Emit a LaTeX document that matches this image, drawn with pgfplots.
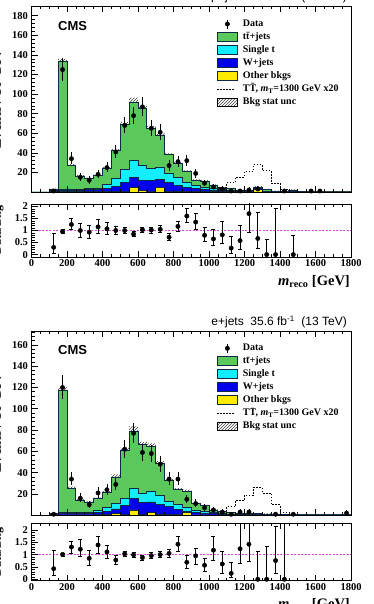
\documentclass[border=0pt]{standalone}
\usepackage{fontspec}
\setmainfont{Liberation Serif}
\newfontfamily\hel{Liberation Sans}
\usepackage{pgfplots}
\pgfplotsset{compat=1.18}
\usepackage{pgfplotstable}
\usepgfplotslibrary{fillbetween}
\usetikzlibrary{patterns}

\definecolor{ttg}{RGB}{90,200,90}
\definecolor{stc}{RGB}{20,238,252}
\definecolor{wjb}{RGB}{0,0,235}
\definecolor{oty}{RGB}{255,235,0}
\definecolor{outl}{RGB}{15,40,70}
\definecolor{ratl}{RGB}{225,70,225}

% cumulative stack tops: tot (ttbar top), cy (single t top), bl (W+jets top), ot (other top), err (stat unc)
\pgfplotstableread{
x tot cy bl ot err
0 0 0 0 0 0
50 0 0 0 0 0
100 3 1.2 0.8 0.2 0.5
150 133 3 2 0.3 3
200 27 3 2 0.3 1.5
250 16 3 2 0.3 1.2
300 13.5 3.5 2.2 0.3 1.1
350 17 4 2.5 0.4 1.2
400 24 8 4 0.5 1.5
450 42 14 6 0.7 2
500 69 23 10 1 2.5
550 92 32 15 5 4.5
600 85 27 12 1.5 3
650 65 24 11.5 1 2.5
700 58 25 13 5 2.5
750 38 19 9.5 1 1.5
800 29 15 7 0.7 1.5
850 21 10 5 0.5 1.2
900 12 7 3.5 0.4 1
950 11 5 2.5 0.3 1
1000 7 3.5 2 0.3 0.8
1050 4 2.5 1.5 0.2 0.6
1100 3.5 1.5 1 0.2 0.6
1150 1.8 1.2 0.8 0.2 0.5
1200 1.3 1 0.6 0.2 0.5
1250 4.5 3.5 3 2.5 1.5
1300 2.5 0.7 0.5 0.1 0.8
1350 1 0.6 0.4 0.1 0.4
1400 0.4 0.3 0.2 0.1 0.2
1450 2 0.5 0.3 0.1 0.6
1500 0.6 0.3 0.2 0.1 0.3
1550 0.3 0.2 0.1 0.05 0.2
1600 0.4 0.2 0.1 0.05 0.2
1650 0.3 0.2 0.1 0.05 0.2
1700 0.3 0.2 0.1 0.05 0.2
1750 0.6 0.3 0.2 0.05 0.3
1800 0.6 0.3 0.2 0.05 0.3
}\bkgmu

\pgfplotstableread{
x tot cy bl ot err
0 0 0 0 0 0
50 0 0 0 0 0
100 1.5 0.6 0.4 0.1 0.4
150 117 3 2 0.3 3
200 25.5 3 2 0.3 1.5
250 14 3 2 0.3 1.2
300 12 2.8 1.8 0.3 1.1
350 15.5 4.5 2.5 0.4 1.2
400 21.5 7 4 0.5 1.5
450 36 11 6 2 2.5
500 61 16 9 0.8 2.5
550 79 25.5 16 5 4.5
600 66.5 21 12 1 2.5
650 64.5 22 12.5 2.5 3
700 49 19 10 0.8 2
750 32.5 13 8 0.6 1.5
800 24 10 5.5 0.5 1.5
850 22 7.5 4 2.5 2
900 11 5 3 0.3 1
950 9 3.5 2 0.3 0.8
1000 5 2.5 1.5 0.2 0.6
1050 3.5 1.5 1 0.2 0.5
1100 2.5 1.2 0.8 0.2 0.5
1150 2 1 0.6 0.1 0.5
1200 1.8 0.9 0.5 0.1 0.4
1250 1.5 0.8 0.5 0.1 0.4
1300 1.3 0.7 0.4 0.1 0.4
1350 1 0.5 0.3 0.1 0.3
1400 0.8 0.4 0.3 0.1 0.3
1450 0.5 0.3 0.2 0.1 0.2
1500 0.5 0.3 0.2 0.1 0.2
1550 0.4 0.3 0.2 0.1 0.2
1600 0.4 0.3 0.2 0.1 0.2
1650 0.4 0.3 0.2 0.1 0.2
1700 0.4 0.3 0.2 0.1 0.2
1750 0.4 0.3 0.2 0.1 0.2
1800 0.4 0.3 0.2 0.1 0.2
}\bkge

\pgfplotstableread{
x s
950 0
1000 2
1050 5
1100 9.5
1150 15
1200 21
1250 28
1300 22
1350 9
1400 3
1450 1
1500 0.5
1550 0.3
1600 0.2
1650 0.2
1700 0.2
1750 0.2
1800 0.2
}\sigmu

\pgfplotstableread{
x s
950 0
1000 2
1050 4
1100 8
1150 14
1200 19
1250 26
1300 21
1350 10
1400 3
1450 1
1500 0.5
1550 0.3
1600 0.2
1650 0.2
1700 0.2
1750 0.2
1800 0.2
}\sige

\pgfplotstableread{
x y ep em
125 1 2.3 0.8
175 125 11.7 11.2
225 34 6.4 5.8
275 15 4.4 3.8
325 12 4 3.4
375 18 4.8 4.2
425 25 5.5 5
475 41 7 6.4
525 68 8.8 8.2
575 78 9.3 8.8
625 87 9.8 9.3
675 65 8.6 8
725 61 8.3 7.8
775 27 5.7 5.2
825 31 6.1 5.5
875 32 6.2 5.6
925 19 4.9 4.3
975 9 3.5 2.9
1025 5 2.8 2.2
1075 3 2.9 1.6
1125 1 2.3 0.8
1175 1 2.3 0.8
1225 2 2.6 1.3
1275 3 2.9 1.6
1425 1 2.3 0.8
1575 1 2.3 0.8
1625 1 2.3 0.8
}\datamu

\pgfplotstableread{
x y ep em
125 1 2.3 0.8
175 120 11.5 11
225 34 6.4 5.8
275 16 4.5 3.9
325 10 3.7 3.1
375 21 5.1 4.6
425 24 5.4 4.9
475 29 5.9 5.4
525 62 8.4 7.9
575 77 9.3 8.8
625 59 8.2 7.7
675 58 8.1 7.6
725 48 7.4 6.9
775 34 6.4 5.8
825 34 6.4 5.8
875 15 4.4 3.8
925 11 3.9 3.3
975 7 3.2 2.6
1025 5 2.8 2.2
1075 3 2.9 1.6
1125 1 2.3 0.8
1175 3 2.9 1.6
1225 3 2.9 1.6
1375 1 2.3 0.8
1475 1 2.3 0.8
1775 2 2.6 1.3
}\datae

\pgfplotstableread{
x r ep em
125 0.3 0.6 0.25
175 0.95 0.08 0.08
225 1.25 0.25 0.22
275 1.0 0.3 0.27
325 0.93 0.3 0.27
375 1.15 0.32 0.28
425 1.07 0.26 0.23
475 1.0 0.18 0.16
525 1.0 0.13 0.12
575 0.85 0.1 0.1
625 1.03 0.11 0.1
675 1.02 0.13 0.12
725 1.05 0.15 0.14
775 0.72 0.15 0.13
825 1.17 0.23 0.2
875 1.6 0.32 0.28
925 1.35 0.37 0.32
975 0.8 0.32 0.27
1025 0.65 0.4 0.28
1075 0.82 0.55 0.34
1125 0.27 0.5 0.2
1175 0.58 0.65 0.38
1225 1.7 0.8 0.78
1275 0.67 1.08 0.42
1325 0 0.63 0
1375 0 1.93 0
1475 0 0.78 0
}\ratmu

\pgfplotstableread{
x r ep em
125 0.43 0.76 0.25
175 1.01 0.06 0.06
225 1.31 0.24 0.26
275 1.22 0.38 0.3
325 0.85 0.34 0.27
375 1.39 0.34 0.34
425 1.11 0.28 0.26
475 0.78 0.21 0.16
525 1.03 0.12 0.12
575 0.99 0.11 0.11
625 0.88 0.11 0.1
675 0.96 0.12 0.12
725 1.0 0.14 0.13
775 1.05 0.17 0.16
825 1.42 0.31 0.3
875 0.69 0.3 0.24
925 0.95 0.31 0.33
975 0.57 0.28 0.23
1025 1.18 0.55 0.42
1075 0.62 0.53 0.38
1125 0.24 0.44 0.16
1175 1.24 1.2 0.59
1225 1.42 1.0 0.7
1275 0 1.12 0
1325 0 1.32 0
1375 0.76 1.38 0.52
1425 0 2.5 0
}\rate

\pgfplotsset{
  base/.style={
    scale only axis, width=319.5pt, anchor=south west,
    xmin=0, xmax=1800, axis on top,
    axis line style={line width=0.8pt},
    tick style={black, line width=0.6pt},
    major tick length=6pt, minor tick length=3pt,
    xtick={0,200,400,600,800,1000,1200,1400,1600,1800},
    minor x tick num=3, ytick pos=left,
    ticklabel style={font=\bfseries\fontsize{10.5}{12}\selectfont},
    xticklabel style={yshift=1pt},
  },
  mainax/.style={base, xticklabels={},
    legend style={draw=none, fill=none, inner sep=0pt, outer sep=0pt,
      anchor=north west, row sep=0pt,
      font=\bfseries\fontsize{10}{12}\selectfont,
      nodes={text height=7.5pt, text depth=2.5pt, inner sep=1.5pt}},
    legend cell align=left,
    ytick={20,40,60,80,100,120,140,160,180},
    yticklabels={20,40,60,80,100,120,140,160,180},
    minor y tick num=4},
  ratax/.style={base,
    xticklabels={0,200,400,600,800,1000,1200,1400,1600,1800},
    ytick={0,0.5,1,1.5,2}, yticklabels={0,0.5,1,1.5,2},
    minor y tick num=4},
  stackfill/.style={const plot mark left, draw=outl, line width=0.8pt, forget plot},
}

\newcommand{\legw}{\path[draw=none,fill=none] (0pt,0pt) -- (24pt,0pt);}
\newcommand{\legendblock}{%
  \addlegendimage{legend image code/.code={\legw \draw[black,line width=0.8pt] (10pt,-4.5pt)--(10pt,4.5pt); \fill[black] (10pt,0pt) circle (2.2pt);}}
  \addlegendentry{Data}
  \addlegendimage{legend image code/.code={\legw \draw[fill=ttg,draw=outl,line width=0.8pt] (0pt,-4.5pt) rectangle (20pt,4.5pt);}}
  \addlegendentry{t\={t}+jets}
  \addlegendimage{legend image code/.code={\legw \draw[fill=stc,draw=outl,line width=0.8pt] (0pt,-4.5pt) rectangle (20pt,4.5pt);}}
  \addlegendentry{Single t}
  \addlegendimage{legend image code/.code={\legw \draw[fill=wjb,draw=outl,line width=0.8pt] (0pt,-4.5pt) rectangle (20pt,4.5pt);}}
  \addlegendentry{W+jets}
  \addlegendimage{legend image code/.code={\legw \draw[fill=oty,draw=outl,line width=0.8pt] (0pt,-4.5pt) rectangle (20pt,4.5pt);}}
  \addlegendentry{Other bkgs}
  \addlegendimage{legend image code/.code={\legw \draw[black,line width=0.7pt,dash pattern=on 1.5pt off 1.5pt] (0pt,0pt)--(17pt,0pt);}}
  \addlegendentry{T\={T}, \textit{m}\textsubscript{T}=1300 GeV x20}
  \addlegendimage{legend image code/.code={\legw \fill[pattern=north east lines, pattern color=black!75] (0pt,-4pt) rectangle (20pt,4pt);}}
  \addlegendentry{Bkg stat unc}
}

\newcommand{\mainplots}[3]{%
  \addplot[const plot mark left, black, line width=0.7pt, dash pattern=on 1.5pt off 1.5pt, forget plot] table[x=x,y=s] {#2};
  \addplot[stackfill, fill=ttg] table[x=x,y=tot] {#1} \closedcycle;
  \addplot[stackfill, fill=stc] table[x=x,y=cy] {#1} \closedcycle;
  \addplot[stackfill, fill=wjb] table[x=x,y=bl] {#1} \closedcycle;
  \addplot[stackfill, fill=oty] table[x=x,y=ot] {#1} \closedcycle;
  \addplot[draw=none, name path=hu, const plot mark left, forget plot] table[x=x, y expr=\thisrow{tot}+\thisrow{err}] {#1};
  \addplot[draw=none, name path=hl, const plot mark left, forget plot] table[x=x, y expr=\thisrow{tot}-\thisrow{err}] {#1};
  \addplot[pattern=north east lines, pattern color=black!75, draw=none, forget plot] fill between[of=hu and hl];
  \addplot[only marks, mark=*, mark size=2.2pt, black, forget plot,
    error bars/.cd, y dir=both, y explicit, error mark=none,
    error bar style={line width=0.8pt}]
    table[x=x, y=y, y error plus=ep, y error minus=em] {#3};
}

\newcommand{\ratioplots}[1]{%
  \addplot[ratl, line width=1.1pt, dash pattern=on 2pt off 1.5pt, forget plot] coordinates {(0,1) (1800,1)};
  \addplot[only marks, mark=*, mark size=2.2pt, black, forget plot,
    error bars/.cd, y dir=both, y explicit,
    error mark options={rotate=90, mark size=2pt, line width=0.7pt},
    error bar style={line width=0.8pt}]
    table[x=x, y=r, y error plus=ep, y error minus=em] {#1};
}

\begin{document}
\begin{tikzpicture}[x=1pt,y=1pt]

% ---------- mu+jets main ----------
\begin{axis}[mainax, at={(31.5pt,412pt)}, height=186pt, ymin=0, ymax=190,
  legend style={at={(axis description cs:0.5806,0.938)}}]
  \legendblock
  \mainplots{\bkgmu}{\sigmu}{\datamu}
\end{axis}
% ---------- mu+jets ratio ----------
\begin{axis}[ratax, at={(31.5pt,347pt)}, height=53pt, ymin=-0.1, ymax=2.1]
  \ratioplots{\ratmu}
\end{axis}

% ---------- e+jets main ----------
\begin{axis}[mainax, at={(31.5pt,88.7pt)}, height=184.3pt, ymin=0, ymax=173,
  legend style={at={(axis description cs:0.5806,0.9414)}}]
  \legendblock
  \mainplots{\bkge}{\sige}{\datae}
\end{axis}
% ---------- e+jets ratio ----------
\begin{axis}[ratax, at={(31.5pt,23.3pt)}, height=57.4pt, ymin=-0.057, ymax=2.27]
  \ratioplots{\rate}
\end{axis}

% texts
\node[anchor=west, inner sep=0pt, font=\hel\bfseries\fontsize{13}{15}\selectfont] at (58,578) {CMS};
\node[anchor=west, inner sep=0pt, font=\hel\bfseries\fontsize{13}{15}\selectfont] at (58,254) {CMS};
\node[anchor=east, inner sep=0pt, font=\hel\fontsize{12}{14}\selectfont] at (347,607.3) {μ+jets\ \ 35.9 fb\textsuperscript{-1}\ \ (13 TeV)};
\node[anchor=east, inner sep=0pt, font=\hel\fontsize{12}{14}\selectfont] at (347,282.3) {e+jets\ \ 35.6 fb\textsuperscript{-1}\ \ (13 TeV)};
\node[anchor=north east, inner sep=0pt, font=\bfseries\fontsize{14.5}{16}\selectfont] at (350,329) {\textit{m}\textsubscript{reco} [GeV]};
\node[anchor=north east, inner sep=0pt, font=\bfseries\fontsize{14.5}{16}\selectfont] at (350,5.7) {\textit{m}\textsubscript{reco} [GeV]};
\node[rotate=90, anchor=base, inner sep=0pt, font=\bfseries\fontsize{14.5}{16}\selectfont] at (0.8,505) {Events / 50 GeV};
\node[rotate=90, anchor=base, inner sep=0pt, font=\bfseries\fontsize{12}{14}\selectfont] at (0.8,374) {Data/Bkg};
\node[rotate=90, anchor=base, inner sep=0pt, font=\bfseries\fontsize{14.5}{16}\selectfont] at (0.8,181) {Events / 50 GeV};
\node[rotate=90, anchor=base, inner sep=0pt, font=\bfseries\fontsize{12}{14}\selectfont] at (0.8,52) {Data/Bkg};

\pgfresetboundingbox
\path[use as bounding box] (0,0) rectangle (373,604);
\end{tikzpicture}
\end{document}
